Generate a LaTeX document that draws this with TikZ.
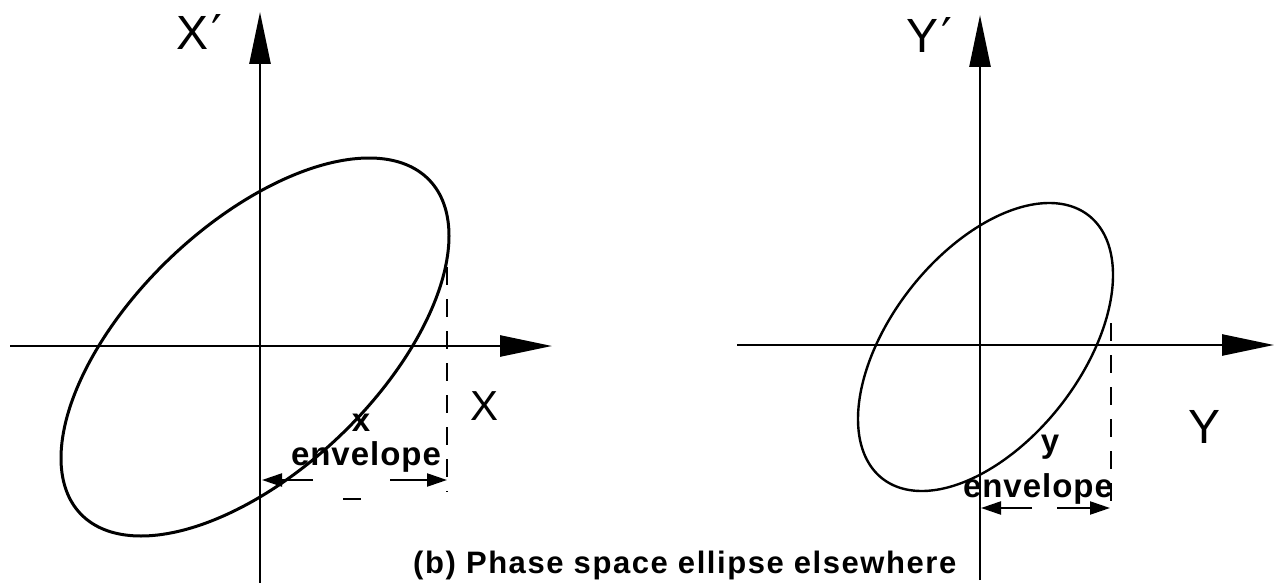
\documentclass[tikz,border=0pt]{standalone}
\usepackage{fontspec}
\usetikzlibrary{arrows.meta}
\newfontfamily\labf{Liberation Sans}
\newfontfamily\envf[LetterSpace=3]{Liberation Sans}
\newfontfamily\capf[LetterSpace=5]{Liberation Sans}
\newfontfamily\djf{DejaVu Sans}
\begin{document}
\begin{tikzpicture}[x=1pt,y=-1pt,
  axis/.style={line width=2.6pt,-{Triangle[length=52pt,width=21pt]}},
  ell/.style={line width=#1},
  dashv/.style={line width=2.4pt,dash pattern=on 18pt off 14pt},
  env/.style={line width=2.2pt,-{Triangle[length=20pt,width=13pt]}},
  biglab/.style={font=\labf\fontsize{48}{56}\selectfont,inner sep=0pt},
  envlab/.style={font=\envf\bfseries\fontsize{33}{40}\selectfont,inner sep=0pt},
  caplab/.style={font=\capf\bfseries\fontsize{31}{37}\selectfont,inner sep=0pt}]
\useasboundingbox[fill=white] (0,0) rectangle (1284,583);
% ---------- left plot ----------
\coordinate (lxa) at (10,346);
\coordinate (lxb) at (552,346);
\coordinate (lya) at (260,583);
\coordinate (lyb) at (260,12);
\draw[axis] (lxa) -- (lxb);
\draw[axis] (lya) -- (lyb);
\draw[ell=3pt] plot[variable=\t,domain=0:357,samples=120,smooth cycle]
  ({255+194*cos(\t)},{347-189*cos(\t-54)});
\coordinate (ldt) at (447,267);
\coordinate (ldb) at (447,492);
\draw[dashv] (ldt) -- (ldb);
\coordinate (la1) at (313,480);
\coordinate (la2) at (262,480);
\coordinate (la3) at (390,480);
\coordinate (la4) at (447,480);
\draw[env] (la1) -- (la2);
\draw[env] (la3) -- (la4);
\coordinate (lm1) at (343,499);
\coordinate (lm2) at (361,499);
\draw[line width=2.2pt] (lm1) -- (lm2);
\node[biglab,anchor=base west] (xp) at (176,50) {X\hspace{3pt}{\djf ′}};
\node[biglab,anchor=base,font=\labf\fontsize{42}{50}\selectfont] (xl) at (484,420) {X};
\node[envlab,anchor=base] (xs) at (361,431) {x};
\node[envlab,anchor=base] (xenv) at (366,465) {envelope};
% ---------- right plot ----------
\coordinate (rxa) at (737,345);
\coordinate (rxb) at (1274,345);
\coordinate (rya) at (980,580);
\coordinate (ryb) at (980,15);
\draw[axis] (rxa) -- (rxb);
\draw[axis] (rya) -- (ryb);
\draw[ell=2.4pt] plot[variable=\t,domain=0:357,samples=120,smooth cycle]
  ({985.5+127.5*cos(\t)},{347-144*cos(\t-60)});
\coordinate (rdt) at (1111,323);
\coordinate (rdb) at (1111,514);
\draw[dashv] (rdt) -- (rdb);
\coordinate (ra1) at (1032,508);
\coordinate (ra2) at (981,508);
\coordinate (ra3) at (1057,508);
\coordinate (ra4) at (1110,508);
\draw[env] (ra1) -- (ra2);
\draw[env] (ra3) -- (ra4);
\node[biglab,anchor=base west] (yp) at (906,53) {Y\hspace{3pt}{\djf ′}};
\node[biglab,anchor=base] (yl) at (1204,443) {Y};
\node[envlab,anchor=base] (ys) at (1050,452) {y};
\node[envlab,anchor=base] (yenv) at (1038,497) {envelope};
% ---------- caption ----------
\node[caplab,anchor=base west] (cap) at (413,573) {(b) Phase space ellipse elsewhere};
\end{tikzpicture}
\end{document}
